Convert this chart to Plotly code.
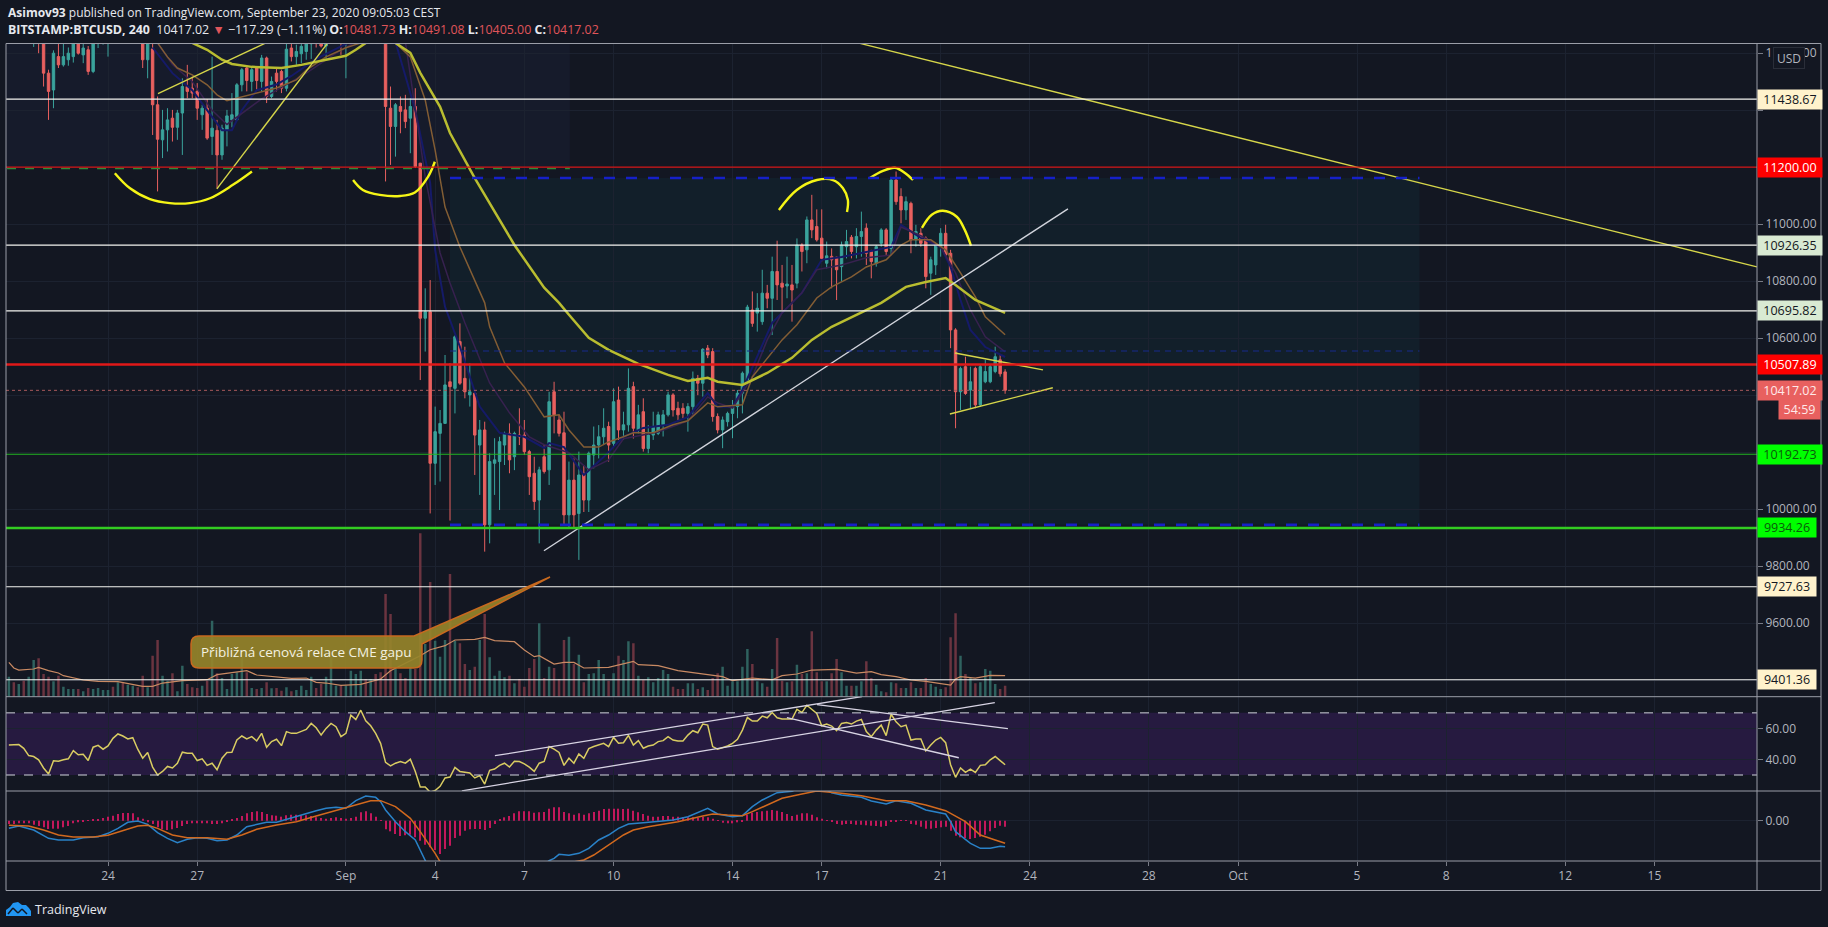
import pandas as pd
import plotly.graph_objs as go

W, H = 1828, 927
BG = "#131722"
GRID = "#1c2230"
FRAME = "#9b9ea8"
AXIS_TEXT = "#b2b5be"

# ---------- candles, 4h bars ----------
FIRST_BAR = "2020-08-20 16:00"

OPENS = [
    11750,11780,11770,11790,11720,11760,11780,11700,11530,11471,
    11588,11559,11577,11588,11660,11594,11612,11536,11635,11645,
    11680,11700,11680,11710,11690,11730,11750,11720,11577,11615,
    11419,11296,11331,11372,11340,11390,11483,11477,11466,11384,
    11407,11308,11329,11243,11331,11366,11366,11489,11548,11501,
    11548,11501,11583,11448,11530,11536,11477,11618,11588,11598,
    11606,11633,11650,11660,11625,11670,11710,11740,11660,11715,
    11750,11770,11810,11790,11820,11800,11760,11407,11343,11413,
    11401,11372,11413,11214,10670,10693,10161,10266,10301,10447,
    10424,10588,10459,10401,10407,10225,10278,9945,10161,10167,
    10225,10266,10184,10260,10260,10202,10126,10032,10184,10138,
    10412,10313,10268,9980,10102,9985,10126,10032,10190,10225,
    10254,10290,10231,10383,10278,10296,10430,10278,10342,10213,
    10260,10266,10296,10331,10401,10354,10354,10336,10360,10459,
    10442,10565,10553,10325,10278,10307,10336,10360,10407,10453,
    10699,10688,10658,10758,10740,10834,10793,10783,10787,10793,
    10927,10910,11015,10992,10951,10863,10887,10884,10851,10921,
    10954,10921,10957,10986,10904,10863,10933,10980,10915,11155,
    11097,11050,11073,10945,10968,10951,10828,10857,10921,10968,
    10898,10629,10412,10500,10418,10494,10366,10447,10447,10483,10524,10481.73,
]
HIGHS = [
    11800,11830,11810,11840,11790,11800,11810,11720,11542,11610,
    11635,11640,11620,11670,11680,11650,11625,11660,11665,11700,
    11720,11740,11720,11760,11740,11780,11790,11760,11680,11635,
    11448,11401,11407,11401,11401,11512,11559,11518,11495,11419,
    11439,11588,11366,11349,11401,11460,11495,11548,11553,11548,
    11553,11594,11588,11518,11548,11542,11635,11640,11630,11645,
    11660,11680,11680,11690,11700,11730,11760,11770,11730,11770,
    11790,11830,11850,11840,11860,11840,11790,11483,11425,11448,
    11454,11442,11477,11215,10775,10804,10360,10348,10541,10512,
    10610,10652,10570,10512,10412,10313,10307,10196,10249,10254,
    10272,10301,10272,10354,10313,10208,10184,10149,10225,10412,
    10447,10331,10342,10167,10178,10202,10155,10202,10290,10295,
    10354,10307,10424,10430,10342,10494,10447,10366,10389,10295,
    10342,10342,10348,10412,10407,10377,10372,10372,10483,10471,
    10565,10576,10565,10336,10325,10342,10383,10418,10483,10717,
    10764,10758,10840,10787,10886,10942,10857,10886,10857,10950,
    10933,11027,11103,11052,11052,10939,10915,10886,10939,10980,
    10962,10986,11044,11003,10910,10927,10986,10986,11161,11185,
    11126,11097,11079,10998,10986,10957,10886,10933,10986,10998,
    10910,10635,10500,10535,10500,10500,10506,10524,10506,10570,10541,10491.08,
]
LOWS = [
    11720,11750,11740,11700,11690,11622,11600,11483,11366,11407,
    11548,11553,11556,11567,11595,11565,11524,11530,11618,11630,
    11588,11660,11660,11680,11670,11710,11700,11548,11512,11313,
    11115,11232,11255,11290,11296,11243,11442,11442,11366,11331,
    11296,11243,11126,11226,11273,11340,11366,11466,11466,11466,
    11471,11466,11425,11442,11466,11460,11466,11571,11559,11565,
    11577,11580,11620,11620,11580,11650,11690,11594,11512,11690,
    11720,11740,11770,11760,11780,11700,11150,11208,11237,11319,
    11337,11249,11197,10453,10553,9985,10085,10097,10300,9960,
    10336,10436,10389,10360,10120,10050,9851,9880,10050,9997,
    10155,10126,10137,10225,10190,10050,9997,9880,10125,10085,
    10266,10255,9945,9933,9933,9822,9990,9990,10143,10178,
    10225,10167,10220,10243,10243,10272,10248,10266,10202,10196,
    10243,10260,10255,10325,10325,10313,10319,10272,10331,10400,
    10395,10530,10307,10266,10214,10290,10249,10319,10336,10453,
    10640,10623,10647,10705,10611,10734,10699,10740,10658,10775,
    10834,10863,10951,10939,10869,10845,10775,10734,10798,10880,
    10880,10880,10886,10857,10810,10851,10921,10892,10892,11068,
    11003,11015,10898,10921,10921,10775,10752,10822,10886,10886,
    10565,10284,10348,10401,10354,10354,10360,10442,10442,10477,10465,10405,
]
CLOSES = [
    11780,11770,11790,11720,11760,11780,11700,11530,11466,11600,
    11559,11588,11600,11640,11600,11618,11536,11635,11650,11670,
    11700,11680,11710,11690,11730,11750,11720,11577,11660,11419,
    11298,11331,11366,11340,11390,11483,11466,11460,11407,11407,
    11302,11337,11243,11337,11380,11384,11489,11542,11504,11542,
    11504,11583,11448,11501,11501,11477,11614,11588,11606,11624,
    11633,11650,11640,11625,11670,11710,11740,11660,11715,11750,
    11770,11810,11790,11820,11800,11730,11413,11343,11419,11396,
    11360,11413,11202,10670,10693,10161,10272,10301,10436,10430,
    10605,10442,10412,10412,10260,10278,9945,10167,10173,10237,
    10266,10173,10266,10254,10202,10114,10027,10138,10132,10377,
    10331,10266,9980,10102,9980,10120,10032,10196,10225,10254,
    10284,10225,10377,10278,10296,10424,10284,10331,10213,10260,
    10290,10331,10331,10401,10348,10331,10336,10360,10459,10442,
    10561,10541,10325,10278,10313,10336,10360,10407,10477,10709,
    10652,10705,10758,10740,10834,10787,10779,10790,10769,10927,
    10904,11015,10980,10945,10880,10889,10875,10840,10927,10939,
    10904,10957,10974,10898,10869,10921,10980,10904,11155,11079,
    11050,11079,10945,10974,10933,10816,10875,10927,10968,10892,
    10629,10412,10494,10406,10447,10366,10500,10483,10500,10535,10475,10417.02,
]
VOLUME = [
    60,43,38,48,60,110,115,68,60,46,
    63,30,23,23,23,16,26,23,26,20,
    20,30,43,43,36,33,28,63,28,123,
    170,63,48,70,16,93,38,28,26,33,
    48,228,70,56,23,68,73,118,73,26,
    23,26,43,25,26,18,28,16,20,33,
    20,60,26,38,60,118,33,33,33,78,
    68,78,53,53,68,73,308,248,83,70,
    56,86,83,490,158,344,168,120,170,368,
    168,160,98,80,90,170,248,118,63,78,
    58,63,40,53,30,86,113,220,56,90,
    86,53,170,180,98,126,43,68,70,110,
    68,48,70,123,110,166,160,63,50,58,
    43,56,80,68,30,23,23,40,40,23,
    28,20,56,70,90,33,46,46,90,143,
    98,46,40,30,83,176,48,43,46,96,
    68,70,196,73,46,46,70,113,73,33,
    33,33,46,106,56,36,16,13,43,40,
    26,26,43,26,26,56,38,30,23,28,
    178,250,123,68,56,40,43,83,78,38,23,33,
]
RSI = [
    49.3,49.3,49.6,47.2,42.5,41.9,39.8,34.5,30.6,39.1,
    38.9,39.8,40.4,45.7,43.0,43.4,39.3,47.9,49.1,46.6,
    48.7,53.6,56.4,55.1,53.2,54.0,46.6,40.8,44.5,35.1,
    30.0,32.3,35.5,34.5,37.6,44.7,44.0,44.0,39.3,40.4,
    36.2,37.6,33.4,40.8,44.5,44.7,52.5,55.1,53.2,54.7,
    51.9,56.8,47.9,51.5,53.0,48.9,57.9,56.8,56.8,58.1,
    59.3,63.2,60.4,55.7,60.0,63.2,61.1,54.7,56.8,68.5,
    65.7,71.7,64.9,61.7,56.8,50.4,38.1,35.9,37.6,38.7,
    37.6,40.2,32.3,22.3,22.3,18.9,20.0,22.7,28.1,28.7,
    34.9,32.3,31.7,31.3,28.1,29.6,24.2,33.0,33.8,36.2,
    37.6,35.1,38.9,38.7,37.2,35.1,32.3,37.6,38.7,48.3,
    46.6,44.5,36.2,40.8,37.6,43.6,40.8,47.0,48.3,49.3,
    50.4,48.3,54.2,50.4,50.8,55.5,49.3,52.1,47.2,48.7,
    49.3,51.5,52.1,54.7,52.5,51.9,51.9,55.7,58.5,57.2,
    62.8,62.1,48.3,46.6,47.6,48.7,50.4,53.0,58.9,67.0,
    64.7,64.7,67.9,66.8,70.2,66.8,66.0,66.0,66.0,72.3,
    70.2,74.9,72.1,69.6,61.7,62.8,61.5,58.5,63.2,63.8,
    62.8,64.7,65.7,57.9,54.7,58.9,62.1,55.3,69.1,64.2,
    61.1,62.1,52.5,53.2,53.2,45.5,49.3,52.5,54.2,50.8,
    36.6,28.5,34.5,31.7,33.8,31.7,36.2,36.6,39.8,41.9,39.3,36.6,
]
MACD_HIST = [
    -10,-10,-8,-8,-8,-12,-16,-20,-25,-24,
    -24,-20,-16,-8,-5,-3,-1,3,5,8,
    12,15,20,23,23,22,10,6,-5,-10,
    -20,-26,-28,-26,-22,-16,-10,-8,-8,-8,
    -8,-10,-10,-8,-2,3,8,14,22,26,
    28,26,20,16,15,12,16,18,18,16,
    16,14,10,8,6,8,10,8,6,8,
    12,25,28,22,12,1,-26,-32,-40,-46,
    -44,-42,-50,-60,-72,-80,-88,-100,-85,-75,
    -52,-45,-30,-26,-25,-25,-28,-22,-10,3,
    10,14,22,28,28,28,24,25,26,36,
    40,40,26,22,18,22,18,22,26,30,
    35,36,36,36,35,36,30,25,20,15,
    12,12,14,14,12,12,10,10,10,8,
    12,10,6,1,-6,-8,-8,-5,-2,18,
    24,26,28,30,32,30,26,20,14,18,
    22,22,18,10,6,1,-3,-10,-12,-10,
    -10,-12,-12,-14,-15,-16,-18,-16,-2,-2,
    -1,1,-10,-12,-18,-24,-24,-22,-20,-18,
    -30,-45,-50,-52,-55,-52,-48,-42,-32,-22,-15,-18,
]

# ---------- indicator lines, (bar number, value) at the bends ----------
VOL_MA = [(0,103),(1,86),(2,80),(5,83),(6,88),(8,78),(10,71),(11,63),(15,50),(18,46),(22,45),(27,31),(29,31),
          (31,41),(35,48),(40,51),(42,66),(44,70),(48,78),(50,65),(52,62),(57,55),(60,56),(62,43),(64,41),(67,34),
          (71,37),(75,53),(77,78),(83,123),(85,141),(88,153),(90,170),(94,172),(96,178),(98,168),(102,165),(104,140),
          (106,120),(107,123),(110,98),(112,103),(114,103),(116,86),(121,88),(123,96),(126,106),(127,96),(131,93),
          (135,78),(138,72),(142,63),(144,60),(146,48),(149,53),(150,56),(154,51),(156,63),(159,68),(162,80),(167,82),
          (171,71),(174,75),(176,66),(179,60),(182,50),(185,46),(190,35),(191,53),(192,60),(195,56),(198,64),(201,63)]
EMA_YELLOW = [(20,11800),(37,11636),(40,11612),(43,11577),(45,11562),(49,11552),(55,11548),(59,11559),(64,11577),
              (68,11591),(70,11612),(72,11636),(75,11680),(78,11636),(81,11601),(83,11531),(87,11412),(89,11320),
              (94,11162),(97,11075),(102,10927),(108,10777),(111,10724),(113,10682),(117,10601),(121,10559),(127,10510),
              (133,10471),(137,10450),(141,10461),(143,10447),(148,10436),(153,10478),(158,10531),(162,10594),(166,10640),
              (172,10692),(176,10724),(181,10780),(185,10797),(189,10811),(191,10787),(195,10734),(201,10689)]
EMA_BROWN = [(20,11720),(28,11660),(30,11636),(32,11587),(34,11548),(37,11524),(40,11489),(42,11454),(44,11433),
             (47,11447),(51,11464),(54,11478),(58,11506),(60,11541),(64,11587),(68,11619),(71,11636),(74,11680),
             (78,11636),(81,11587),(84,11436),(86,11260),(88,11060),(91,10920),(96,10724),(97,10640),(100,10513),
             (104,10429),(108,10324),(111,10331),(113,10278),(116,10218),(119,10218),(121,10236),(124,10254),(126,10268),
             (130,10268),(134,10296),(137,10310),(141,10373),(143,10359),(148,10366),(150,10464),(153,10531),(156,10594),
             (159,10647),(163,10741),(166,10780),(170,10815),(173,10850),(177,10875),(180,10927),(182,10945),(186,10945),
             (189,10910),(192,10829),(195,10745),(197,10675),(201,10612)]
EMA_NAVY = [(29,11620),(33,11530),(37,11470),(40,11400),(43,11330),(45,11330),(47,11400),(50,11470),(54,11490),
            (57,11520),(62,11580),(70,11650),(78,11640),(82,11400),(85,11145),(86,10910),(88,10710),(91,10570),(95,10360),
            (99,10268),(104,10254),(108,10215),(109,10232),(112,10218),(116,10120),(120,10183),(124,10254),(128,10285),
            (133,10296),(137,10324),(141,10408),(143,10359),(146,10359),(148,10419),(151,10534),(154,10654),(160,10759),
            (164,10875),(168,10885),(173,10903),(178,10920),(180,10997),(184,10952),(188,10920),(190,10850),(192,10734),
            (194,10629),(197,10569),(201,10534)]
EMA_PURPLE = [(29,11660),(33,11560),(37,11500),(41,11400),(44,11350),(47,11390),(51,11440),(55,11480),(60,11530),
              (66,11600),(72,11660),(80,11640),(84,11166),(87,10899),(89,10794),(92,10654),(97,10443),(101,10338),
              (105,10254),(108,10226),(113,10198),(117,10138),(121,10173),(124,10247),(131,10271),(137,10310),(141,10394),
              (143,10373),(146,10355),(150,10464),(153,10594),(156,10689),(160,10759),(163,10840),(168,10857),(173,10882),
              (178,10892),(180,10990),(184,10960),(188,10920),(191,10829),(194,10699),(197,10605),(201,10552)]
MACD_LINE = [(0,-23),(2,-16),(5,-28),(8,-53),(10,-58),(13,-58),(15,-51),(18,-48),(20,-38),(22,-23),(24,-5),(26,-1),
             (28,-11),(30,-36),(32,-53),(34,-66),(36,-56),(38,-51),(40,-53),(42,-60),(44,-58),(46,-43),(48,-18),(50,-11),
             (52,-5),(54,-5),(56,4),(58,12),(60,20),(62,30),(64,37),(66,40),(68,37),(70,60),(72,74),(74,70),(75,57),(76,32),
             (78,-3),(80,-33),(82,-58),(83,-88),(84,-118),(85,-150),(95,-190),(105,-170),(109,-120),(110,-113),(111,-101),
             (112,-103),(113,-104),(115,-98),(117,-83),(119,-58),(121,-43),(123,-23),(125,-10),(128,-6),(131,-3),(134,2),
             (137,12),(140,30),(141,37),(143,20),(146,12),(148,15),(150,42),(152,62),(155,84),(158,88),(160,102),(163,107),
             (165,92),(166,84),(168,77),(172,70),(174,59),(177,50),(179,60),(182,52),(185,32),(188,22),(189,20),(190,-3),
             (191,-33),(194,-68),(196,-83),(198,-83),(200,-77),(201,-78)]
MACD_SIGNAL = [(0,-14),(4,-16),(7,-28),(10,-43),(13,-49),(17,-49),(20,-44),(23,-30),(26,-16),(28,-14),(30,-23),(33,-43),
               (36,-51),(40,-51),(44,-56),(47,-43),(50,-26),(54,-13),(58,-3),(62,14),(66,30),(70,47),(73,60),(75,60),(78,42),
               (81,7),(83,-33),(86,-98),(87,-123),(90,-160),(100,-200),(110,-135),(115,-120),(116,-118),(118,-103),(120,-83),
               (122,-63),(124,-43),(126,-28),(129,-18),(132,-11),(135,-3),(140,14),(142,20),(145,17),(148,15),(150,27),(153,47),
               (156,67),(160,80),(163,89),(168,82),(172,75),(177,60),(181,60),(185,47),(189,30),(193,-3),(196,-43),(199,-58),
               (201,-68)]

# ---------- price levels and their axis tags ----------
LEVELS = [11438.67, 11200.00, 10926.35, 10695.82, 10507.89, 10192.73, 9934.26, 9727.63, 9401.36]
LEVEL_COLORS = ["#f4f4f0", "#d41414", "#f4f4f0", "#f4f4f0", "#e01818", "#22b422", "#33cc22", "#f4f4f0", "#f4f4f0"]
LEVEL_WIDTHS = [1.1, 1.2, 1.1, 1.1, 2.5, 1.2, 2.5, 1.1, 1.1]
TAG_COLORS = ["#fff2cc", "#ff0000", "#d9ead3", "#d9ead3", "#ff0000", "#00ff00", "#00ff00", "#fff2cc", "#fff2cc"]
TAG_TEXT = ["#131722", "#ffffff", "#131722", "#131722", "#ffffff", "#0b5a0b", "#0b5a0b", "#131722", "#131722"]
TAG_NARROW = [False, False, False, False, False, False, True, True, True]
LAST_PRICE = 10417.02

PRICE_TICKS = [9400, 9600, 9800, 10000, 10200, 10400, 10600, 10800, 11000, 11200, 11400, 11600]
PRICE_LABELS = ["", "9600.00", "9800.00", "10000.00", "", "", "10600.00", "10800.00", "11000.00", "", "", "11600.00"]
RSI_TICKS = [40, 60]
RSI_LABELS = ["40.00", "60.00"]
# days counted from 1 Sep, with what the time axis prints there
TIME_TICKS = [-8, -5, 0, 3, 6, 9, 13, 16, 20, 23, 27, 30, 34, 37, 41, 44]
TIME_LABELS = ["24", "27", "Sep", "4", "7", "10", "14", "17", "21", "24", "28", "Oct", "5", "8", "12", "15"]

# ---------- things drawn by hand on the chart, (days from 1 Sep, value) ----------
ARCS = [
    [(-7.77,11179),(-7.26,11126),(-6.59,11088),(-5.92,11074),(-5.25,11074),(-4.57,11091),(-3.8,11138),(-3.16,11185)],
    [(0.24,11155),(0.57,11120),(1.14,11103),(1.82,11099),(2.32,11111),(2.76,11166),(2.99,11219)],
    [(14.56,11050),(15.16,11120),(15.84,11155),(16.38,11155),(16.71,11127),(16.88,11085),(16.85,11043)],
    [(17.62,11162),(18.06,11187),(18.46,11198),(18.8,11180),(19.07,11155)],
    [(19.37,10987),(19.7,11033),(20.07,11047),(20.54,11026),(20.81,10980),(21.02,10924)],
]
YELLOW_LINES = [
    [(-6.32,11458),(-2.69,11636)],
    [(-4.34,11124),(-0.61,11636)],
    [(17.22,11636),(47.45,10850)],
    [(20.48,10548),(23.44,10489)],
    [(20.31,10334),(23.77,10426)],
]
WHITE_LINE = [(6.66,9854),(24.28,11054)]
RSI_LINES = [
    [(5.01,42.4),(17.35,80.4)],
    [(3.90,19.8),(21.82,76.6)],
    [(15.84,75.3),(22.26,59.8)],
    [(14.83,66.9),(20.61,41.1)],
]

assert len(OPENS) == len(HIGHS) == len(LOWS) == len(CLOSES) == len(VOLUME) == len(RSI) == len(MACD_HIST) == 202

SEP1 = pd.Timestamp("2020-09-01")
DATES = pd.date_range(FIRST_BAR, periods=len(CLOSES), freq="4h")
BAR_MS = 4 * 3600 * 1000


def day(d):
    return (SEP1 + pd.Timedelta(days=d)).strftime("%Y-%m-%d %H:%M:%S")


def px(x):
    return x / W


def py(y):
    return 1 - y / H


def pixel_path(points):
    out = []
    for p in points:
        if p[0] in ("M", "L"):
            out.append(f"{p[0]} {px(p[1]):.5f} {py(p[2]):.5f}")
        elif p[0] == "Q":
            out.append(f"Q {px(p[1]):.5f} {py(p[2]):.5f} {px(p[3]):.5f} {py(p[4]):.5f}")
    return " ".join(out) + " Z"


def knots(trace_points, yaxis, color, width, name):
    return go.Scatter(
        x=[DATES[b] for b, _ in trace_points],
        y=[v for _, v in trace_points],
        mode="lines", yaxis=yaxis, name=name,
        line=dict(color=color, width=width),
        hoverinfo="skip", showlegend=False,
    )


def drawn(points, yaxis, color, width, spline=False):
    return go.Scatter(
        x=[day(d) for d, _ in points],
        y=[v for _, v in points],
        mode="lines", yaxis=yaxis,
        line=dict(color=color, width=width, shape="spline" if spline else "linear"),
        hoverinfo="skip", showlegend=False,
    )


fig = go.Figure()

# volume sits behind the candles, in the same pane
vol_colors = ["#2f625f" if c >= o else "#6b3440" for o, c in zip(OPENS, CLOSES)]
fig.add_trace(go.Bar(x=DATES, y=VOLUME, yaxis="y2", width=BAR_MS * 0.5, marker_color=vol_colors,
                     marker_line_width=0, showlegend=False, hoverinfo="skip"))
fig.add_trace(knots(VOL_MA, "y2", "#c98a63", 1.2, "Vol MA"))

fig.add_trace(knots(EMA_NAVY, "y", "#151a68", 2, "EMA navy"))
fig.add_trace(knots(EMA_PURPLE, "y", "#37214f", 1.5, "EMA purple"))
fig.add_trace(knots(EMA_BROWN, "y", "#835d34", 1.5, "EMA brown"))
fig.add_trace(go.Candlestick(
    x=DATES, open=OPENS, high=HIGHS, low=LOWS, close=CLOSES,
    increasing=dict(line=dict(color="#3aa39c", width=1), fillcolor="#3aa39c"),
    decreasing=dict(line=dict(color="#e8605f", width=1), fillcolor="#e8605f"),
    whiskerwidth=0, showlegend=False, hoverinfo="skip",
))
fig.add_trace(knots(EMA_YELLOW, "y", "#b9bd30", 2.5, "EMA yellow"))

for line in YELLOW_LINES:
    fig.add_trace(drawn(line, "y", "#d6d64a", 1.4))
fig.add_trace(drawn(WHITE_LINE, "y", "#d1d4dc", 1.4))
for arc in ARCS:
    fig.add_trace(drawn(arc, "y", "#f5f516", 2.4, spline=True))

# RSI pane
fig.add_trace(go.Scatter(x=DATES, y=RSI, yaxis="y3", mode="lines", line=dict(color="#d9cc62", width=1.5),
                         showlegend=False, hoverinfo="skip"))
for line in RSI_LINES:
    fig.add_trace(drawn(line, "y3", "#d8d4e4", 1.3))

# MACD pane
fig.add_trace(go.Bar(x=DATES, y=MACD_HIST, yaxis="y4", width=BAR_MS * 0.22, marker_color="#c2185b",
                     marker_line_width=0, showlegend=False, hoverinfo="skip"))
fig.add_trace(knots(MACD_LINE, "y4", "#2a82c8", 1.5, "MACD"))
fig.add_trace(knots(MACD_SIGNAL, "y4", "#d2691e", 1.5, "Signal"))

shapes = [
    # shaded boxes under the candles
    dict(type="rect", xref="x", yref="y", layer="below", x0=day(-12), x1=day(7.53), y0=11200, y1=11700,
         fillcolor="#161b2b", line_width=0),
    dict(type="rect", xref="x", yref="y", layer="below", x0=day(3.5), x1=day(36.1), y0=9945, y1=11162,
         fillcolor="#121f2a", line_width=0),
    dict(type="rect", xref="x domain", yref="y3", layer="below", x0=0, x1=1, y0=30, y1=70,
         fillcolor="#261a40", line_width=0),
]
for price, width_px, dash in [(11162, 2.6, "11px,11px"), (10555, 1.2, "6px,5px"), (9945, 2.6, "11px,11px")]:
    shapes.append(dict(type="line", xref="x", yref="y", x0=day(3.5), x1=day(36.1), y0=price, y1=price,
                       line=dict(color="#1620c8" if width_px > 2 else "#172a8c", width=width_px, dash=dash)))
shapes.append(dict(type="line", xref="x", yref="y", x0=day(-12), x1=day(7.53), y0=11195, y1=11195,
                   line=dict(color="#2e8b3a", width=1.5, dash="dash")))
for level, color, lw in zip(LEVELS, LEVEL_COLORS, LEVEL_WIDTHS):
    shapes.append(dict(type="line", xref="x domain", yref="y", x0=0, x1=1, y0=level, y1=level,
                       line=dict(color=color, width=lw)))
shapes.append(dict(type="line", xref="x domain", yref="y", x0=0, x1=1, y0=LAST_PRICE, y1=LAST_PRICE,
                   line=dict(color="#a85a5c", width=1, dash="dot")))
for level in (30, 70):
    shapes.append(dict(type="line", xref="x domain", yref="y3", x0=0, x1=1, y0=level, y1=level,
                       line=dict(color="#d1d4dc", width=1, dash="dash")))

# pane frame
for x0, y0, x1, y1 in [(6, 43.5, 1821, 43.5), (6, 696.7, 1821, 696.7), (6, 791, 1821, 791), (6, 861, 1821, 861),
                       (6, 890.5, 1821, 890.5), (6, 43.5, 6, 890.5), (1757, 43.5, 1757, 890.5),
                       (1821, 43.5, 1821, 890.5)]:
    shapes.append(dict(type="line", xref="paper", yref="paper", x0=px(x0), x1=px(x1), y0=py(y0), y1=py(y1),
                       line=dict(color=FRAME, width=1)))

# callout with its pointer
shapes.append(dict(
    type="path", xref="paper", yref="paper", fillcolor="rgba(150,132,42,0.92)", line=dict(color="#c8691f", width=1.5),
    path=pixel_path([("M", 199, 636), ("L", 414, 636), ("L", 550, 577), ("L", 422, 644), ("L", 422, 660),
                     ("Q", 422, 668, 414, 668), ("L", 199, 668), ("Q", 191, 668, 191, 660), ("L", 191, 644),
                     ("Q", 191, 636, 199, 636)]),
))
# TradingView logo
shapes.append(dict(
    type="path", xref="paper", yref="paper", fillcolor="#2196f3", line_width=0,
    path=pixel_path([("M", 6, 916), ("L", 6, 910), ("L", 10, 907), ("L", 13, 903), ("L", 18, 902), ("L", 22, 905),
                     ("L", 26, 905), ("L", 29, 908), ("L", 31, 911), ("L", 31, 916)]),
))
for (x0, y0), (x1, y1) in zip([(8, 914), (13, 908), (18, 913), (22, 909)], [(13, 908), (18, 913), (22, 909), (27, 914)]):
    shapes.append(dict(type="line", xref="paper", yref="paper", x0=px(x0), x1=px(x1), y0=py(y0), y1=py(y1),
                       line=dict(color=BG, width=1.5)))

FONT = "Open Sans"
RED = "#e0555a"
header_1 = "<b>Asimov93</b> published on TradingView.com, September 23, 2020 09:05:03 CEST"
header_2 = (f"<b>BITSTAMP:BTCUSD, 240</b>  10417.02 <span style='color:{RED}'>▼</span> −117.29 (−1.11%) "
            f"<b>O:</b><span style='color:{RED}'>10481.73</span> <b>H:</b><span style='color:{RED}'>10491.08</span> "
            f"<b>L:</b><span style='color:{RED}'>10405.00</span> <b>C:</b><span style='color:{RED}'>10417.02</span>")

annotations = [
    dict(text=header_1, xref="paper", yref="paper", x=px(6), y=py(13), xanchor="left", yanchor="middle",
         showarrow=False, font=dict(color="#e6e8ee", size=12, family=FONT)),
    dict(text=header_2, xref="paper", yref="paper", x=px(6), y=py(30), xanchor="left", yanchor="middle",
         showarrow=False, font=dict(color="#e6e8ee", size=12.4, family=FONT)),
    dict(text="Přibližná cenová relace CME gapu", xref="paper", yref="paper", x=px(306), y=py(652),
         xanchor="center", yanchor="middle", showarrow=False, font=dict(color="#f4f2e0", size=13.5, family=FONT)),
    dict(text="TradingView", xref="paper", yref="paper", x=px(33), y=py(909), xanchor="left", yanchor="middle",
         showarrow=False, font=dict(color="#e6e8ee", size=12.5, family=FONT)),
    dict(text="USD", xref="paper", yref="paper", x=px(1789), y=py(58), xanchor="center", yanchor="middle",
         showarrow=False, width=30, height=20, bgcolor=BG, bordercolor="#2a2e39", borderwidth=1, borderpad=0,
         font=dict(color=AXIS_TEXT, size=12, family=FONT)),
    dict(text="54:59", xref="paper", yref="paper", x=px(1821), y=py(410), xanchor="right", yanchor="middle",
         showarrow=False, width=41, height=19, bgcolor="#e8605f", borderpad=0,
         font=dict(color="#ffe9e9", size=12.5, family=FONT)),
    dict(text="10417.02", xref="paper", yref="y", x=px(1757), y=LAST_PRICE, xanchor="left", yanchor="middle",
         showarrow=False, width=64, height=19, bgcolor="#e8605f", borderpad=0,
         font=dict(color="#ffe9e9", size=12.5, family=FONT)),
]
for level, bg, fg, narrow in zip(LEVELS, TAG_COLORS, TAG_TEXT, TAG_NARROW):
    annotations.append(dict(
        text=f"{level:.2f}", xref="paper", yref="y", x=px(1757), y=level, xanchor="left", yanchor="middle",
        showarrow=False, width=58 if narrow else 64, height=19, bgcolor=bg, borderpad=0,
        font=dict(color=fg, size=12.5, family=FONT),
    ))

axis_font = dict(color=AXIS_TEXT, size=12, family=FONT)
y_common = dict(side="right", anchor="x", ticks="outside", ticklen=5, tickcolor="#787b86", showline=False,
                gridcolor=GRID, zeroline=False, tickfont=axis_font, fixedrange=True)

fig.update_layout(
    width=W, height=H, autosize=False,
    margin=dict(l=0, r=0, t=0, b=0),
    paper_bgcolor=BG, plot_bgcolor=BG,
    barmode="overlay",
    showlegend=False,
    shapes=shapes,
    annotations=annotations,
    xaxis=dict(
        domain=[px(6), px(1757)], anchor="y4", type="date",
        range=[day(-11.43), day(47.45)], rangeslider=dict(visible=False),
        tickmode="array", tickvals=[day(d) for d in TIME_TICKS], ticktext=TIME_LABELS,
        ticks="outside", ticklen=4, tickcolor="#787b86", tickfont=axis_font,
        gridcolor=GRID, showline=False, zeroline=False,
    ),
    yaxis=dict(domain=[py(696.7), py(43.5)], range=[9342, 11634], tickmode="array",
               tickvals=PRICE_TICKS, ticktext=PRICE_LABELS, **y_common),
    yaxis2=dict(domain=[py(696.7), py(43.5)], range=[0, 1959], overlaying="y", side="right", anchor="x",
                showgrid=False, showticklabels=False, ticks="", zeroline=False, fixedrange=True),
    yaxis3=dict(domain=[py(791), py(696.7)], range=[19.7, 80.4], tickmode="array",
                tickvals=RSI_TICKS, ticktext=RSI_LABELS, **y_common),
    yaxis4=dict(domain=[py(861), py(791)], range=[-121, 89], tickmode="array",
                tickvals=[0], ticktext=["0.00"], **y_common),
)

fig.write_html("out.html", config={"displayModeBar": False},
               post_script=f"document.body.style.margin='0';document.body.style.background='{BG}';")
